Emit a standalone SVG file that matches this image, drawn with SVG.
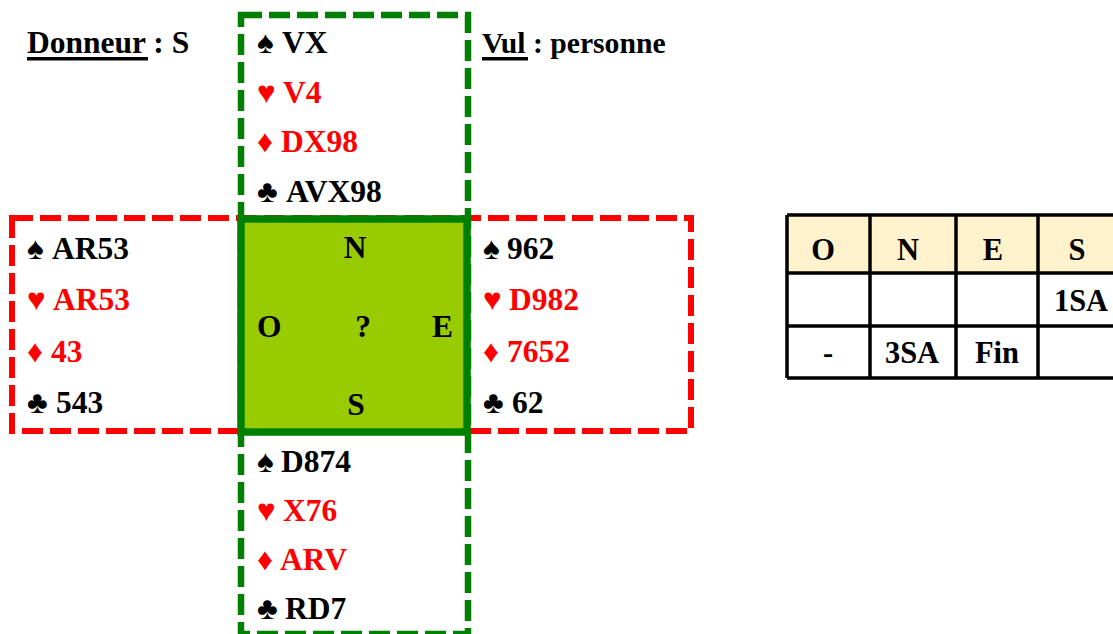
<svg xmlns="http://www.w3.org/2000/svg" width="1113" height="634" viewBox="0 0 1113 634">
<style>
text{font-family:"Liberation Serif","Times New Roman",serif;font-weight:bold;font-size:31.5px;fill:#000}
.r{fill:#FF0000}
.lbl{font-size:29.7px}
.tb{font-size:30.5px;text-anchor:middle}
.mid{text-anchor:middle}
.dashR{fill:none;stroke:#FF0000;stroke-width:6;stroke-dasharray:21 7}
.dashG{fill:none;stroke:#008000;stroke-width:6.5;stroke-dasharray:21 7}
.grid{stroke:#000;stroke-width:3.5;fill:none}
</style>
<rect width="1113" height="634" fill="#fff"/>
<g id="headers">
<text x="27" y="53">Donneur : S</text>
<rect x="27" y="57" width="121" height="3.5" fill="#000"/>
<text x="482" y="53" class="lbl">Vul : personne</text>
<rect x="482" y="57" width="46" height="3.5" fill="#000"/>
</g>
<g id="frames">
<rect class="dashR" x="12" y="218" width="679" height="213"/>
<rect class="dashG" x="241" y="15" width="227" height="619"/>
</g>
<g id="north">
<text x="257" y="53">♠ <tspan x="282">VX</tspan></text>
<text x="257" y="103" class="r">♥ <tspan x="283">V4</tspan></text>
<text x="257" y="152" class="r">♦ <tspan x="281">DX98</tspan></text>
<text x="257" y="202">♣ <tspan x="286">AVX98</tspan></text>
</g>
<g id="west">
<text x="27" y="259">♠ <tspan x="52">AR53</tspan></text>
<text x="27" y="310" class="r">♥ <tspan x="53">AR53</tspan></text>
<text x="27" y="362" class="r">♦ <tspan x="51">43</tspan></text>
<text x="27" y="413">♣ <tspan x="56">543</tspan></text>
</g>
<g id="east">
<text x="483" y="259">♠ <tspan x="507">962</tspan></text>
<text x="483" y="310" class="r">♥ <tspan x="509">D982</tspan></text>
<text x="483" y="362" class="r">♦ <tspan x="507">7652</tspan></text>
<text x="483" y="413">♣ <tspan x="512">62</tspan></text>
</g>
<g id="south">
<text x="257" y="472">♠ <tspan x="281">D874</tspan></text>
<text x="257" y="521" class="r">♥ <tspan x="283">X76</tspan></text>
<text x="257" y="570" class="r">♦ <tspan x="280">ARV</tspan></text>
<text x="257" y="619">♣ <tspan x="285">RD7</tspan></text>
</g>
<g id="table-center">
<rect x="241" y="219" width="226" height="213" fill="#99CC00" stroke="#008000" stroke-width="7.5"/>
<text x="355" y="258" class="mid">N</text>
<text x="257" y="337">O</text>
<text x="363" y="337" class="mid">?</text>
<text x="432" y="337">E</text>
<text x="356" y="415" class="mid">S</text>
</g>
<g id="bidding">
<rect x="787" y="215" width="340" height="58" fill="#FFF2CC"/>
<path class="grid" d="M787 215H1130M787 273H1130M787 326H1130M787 378H1130M787 215V378M870 215V378M956 215V378M1038 215V378"/>
<text x="823" y="260" class="tb">O</text>
<text x="908" y="260" class="tb">N</text>
<text x="993" y="260" class="tb">E</text>
<text x="1077" y="260" class="tb">S</text>
<text x="1081" y="311" class="tb">1SA</text>
<text x="828" y="363" class="tb">-</text>
<text x="912" y="363" class="tb">3SA</text>
<text x="997" y="363" class="tb">Fin</text>
</g>
</svg>
